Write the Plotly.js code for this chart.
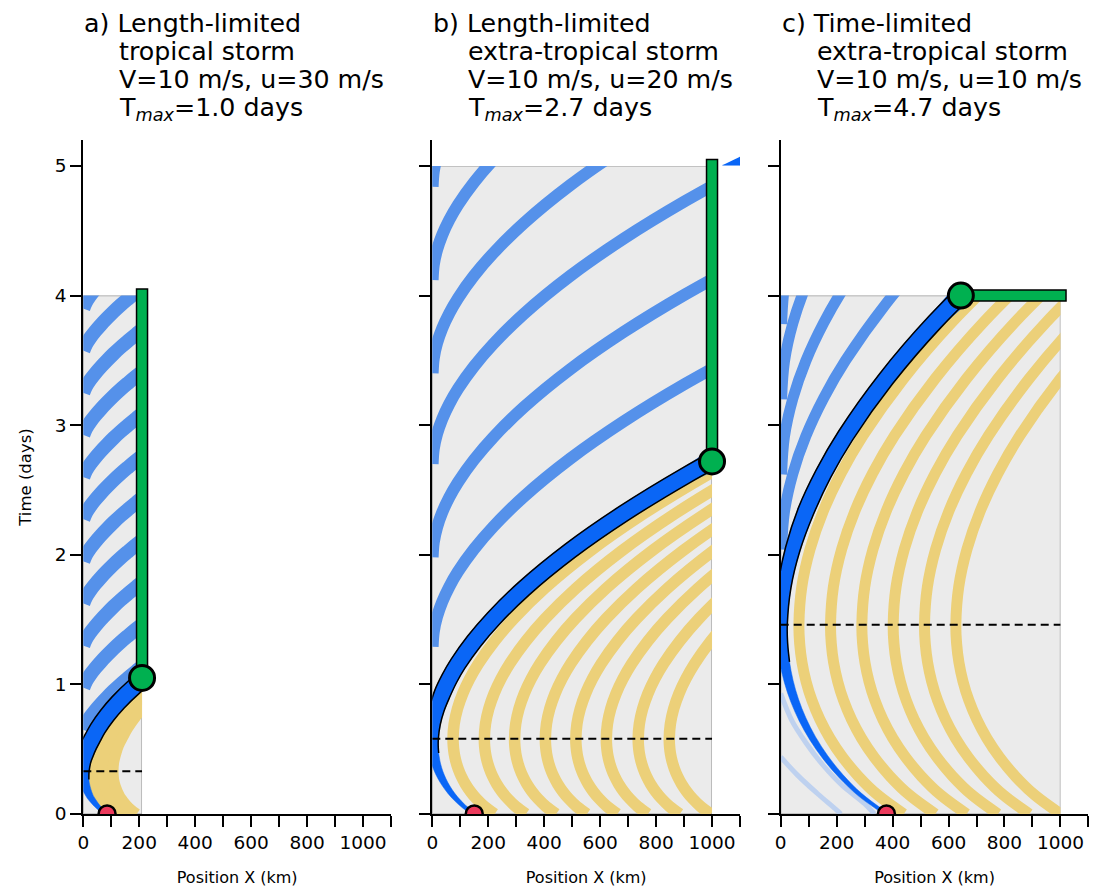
<!DOCTYPE html>
<html><head><meta charset="utf-8">
<script src="https://cdn.plot.ly/plotly-3.0.1.min.js"></script>
<style>body{margin:0;background:#fff}#chart{width:1102px;height:889px}</style>
</head><body><div id="chart"></div>
<script>
// ---------------- data ----------------
// panel a: main trajectory (time in days, position in km)
const aT = [0,0.033,0.066,0.1,0.13,0.165,0.2,0.23,0.26,0.3,0.33,0.4,0.46,0.53,0.59,0.66,0.76,0.86,0.99,1.155];
const aX = [85,64.1,48.3,35.6,25.4,17.2,10.8,6.1,2.8,0.9,0.3,2.6,9.3,19.9,34.2,52,84.7,124.1,186.3,278.3];
// panel a: shape of the light-blue stripes (days since start, km) and their start times
const aStripeS = [0,0.05,0.1,0.15,0.2,0.25,0.3,0.35,0.4,0.45,0.5];
const aStripeX = [0,10,25,43,63,85,108,133,160,188,218];
const aStripeStart = [0.65,0.975,1.3,1.625,1.95,2.275,2.6,2.925,3.25,3.575,3.9];
const aYellowOff = [34,70,106];
// panel b
const bT = [0,0.058,0.116,0.174,0.232,0.29,0.348,0.406,0.464,0.522,0.58,0.696,0.812,0.928,1.044,1.16,1.334,1.508,1.74,2.03,2.32,2.61,2.9];
const bX = [150,113.2,85.4,63.2,45.2,30.8,19.6,11.3,5.5,2.2,1.1,5.2,16.9,35.6,60.8,92,149.5,218.7,328,492,685,905,1150];
const bBlueShift = [0.71,1.40,2.12,2.82,3.54,4.26];
const bYellowOff = [73,185,293,403,512,621,735,846];
// panel c
const cT = [0,0.146,0.292,0.438,0.584,0.73,0.876,1.022,1.168,1.314,1.46,1.752,2.044,2.336,2.628,2.92,3.358,3.796,4.38];
const cX = [378,285.3,215.5,159.5,114.2,78,49.8,28.8,14.3,5.9,3.1,13.4,43.1,90,153.4,232.1,376.9,551,826];
const cBlueShift = [0.58,1.16,1.74,2.32];
const cYellowOff = [62,175,287,399,511,623];
// faint lines in panel c
const cPale1X = [0,60,130,200,215];
const cPale1T = [0.44,0.3,0.16,0.03,0];
const cPale2X = [0,40,90,150,220,300,335];
const cPale2T = [0.93,0.72,0.55,0.38,0.22,0.08,0];
// storm boxes, critical times, markers
const boxL = [210,1000,1000];
const boxT = [4,5,4];
const tCrit = [0.33,0.58,1.46];
const redX = [85,150,378];
const greenX = [210,1000,644];
const greenT = [1.05,2.72,4.0];
// green bar end (vertical for a,b: time; horizontal for c: position)
const barEnd = [4.05,5.05,1020];
// small blue fragment at top right of panel b
const fragX = [1037,1100,1100];
const fragT = [5.005,5.005,5.07];
const titles = [
  ["a) Length-limited","tropical storm","V=10 m/s, u=30 m/s","T<sub><i>max</i></sub>=1.0 days"],
  ["b) Length-limited","extra-tropical storm","V=10 m/s, u=20 m/s","T<sub><i>max</i></sub>=2.7 days"],
  ["c) Time-limited","extra-tropical storm","V=10 m/s, u=10 m/s","T<sub><i>max</i></sub>=4.7 days"]
];
const xTicks = [0,100,200,300,400,500,600,700,800,900,1000,1100];
const xTickText = ["0","","200","","400","","600","","800","","1000",""];
const yTicks = [0,1,2,3,4,5];

// ---------------- geometry ----------------
const W = 1102, H = 889;
const X0 = [83.3, 432.3, 780.7];
const PW = 307.7, XMAX = 1100, YMAX = 5.2;
const Y0 = 814, YTOP = 140;
const KX = PW / XMAX, KY = (Y0 - YTOP) / YMAX;

const C_BLUE = '#5591ea', C_MAIN = '#0a66f6', C_YEL = '#ecd079', C_GRAY = '#ebebeb';
const C_GREEN = '#00b050', C_RED = '#ec3a5c';

const panels = [
  {T:aT, X:aX, shifts:null, yoff:aYellowOff, sw:14, yw:11},
  {T:bT, X:bX, shifts:bBlueShift, yoff:bYellowOff, sw:12, yw:11.5},
  {T:cT, X:cX, shifts:cBlueShift, yoff:cYellowOff, sw:11, yw:11}
];

const traces = [];
const shapes = [];
const annotations = [];
const layout = {
  width: W, height: H, margin: {l:0,r:0,t:0,b:0},
  paper_bgcolor: '#fff', plot_bgcolor: 'rgba(0,0,0,0)',
  showlegend: false, font: {family: 'DejaVu Sans', color: '#000'},
  shapes: shapes, annotations: annotations
};

function bandPolygon(T, X, tc) {
  const n = T.length, L = [], R = [];
  for (let i = 0; i < n; i++) {
    const i0 = Math.max(0, i - 1), i1 = Math.min(n - 1, i + 1);
    const dx = (X[i1] - X[i0]) * KX, dy = -(T[i1] - T[i0]) * KY;
    const len = Math.hypot(dx, dy) || 1;
    const nx = -dy / len, ny = dx / len;
    const hw = 1.6 + 6.6 * Math.min(1, T[i] / (1.6 * tc));
    L.push([X[i] + nx * hw / KX, T[i] - ny * hw / KY]);
    R.push([X[i] - nx * hw / KX, T[i] + ny * hw / KY]);
  }
  return {L, R};
}

function line(x, y, xa, ya, color, width) {
  return {type: 'scatter', mode: 'lines', x: x, y: y, xaxis: xa, yaxis: ya,
    line: {color: color, width: width, shape: 'spline'}, hoverinfo: 'skip'};
}

for (let p = 0; p < 3; p++) {
  const P = panels[p];
  const sfx = p === 0 ? '' : String(p + 1);
  const bx = 'x' + sfx, by = 'y' + sfx;
  const vx = 'x' + (p + 4), vy = 'y' + (p + 4);
  layout['xaxis' + sfx] = {
    domain: [X0[p] / W, (X0[p] + boxL[p] * KX) / W], range: [0, boxL[p]],
    visible: false, fixedrange: true, anchor: by
  };
  layout['yaxis' + sfx] = {
    domain: [(H - Y0) / H, (H - Y0 + boxT[p] * KY) / H], range: [0, boxT[p]],
    visible: false, fixedrange: true, anchor: bx
  };
  layout['xaxis' + (p + 4)] = {
    domain: [X0[p] / W, (X0[p] + PW) / W], range: [0, XMAX], anchor: vy,
    showline: true, linecolor: '#000', linewidth: 2, ticks: 'outside', ticklen: 11,
    tickwidth: 2, tickcolor: '#000', tickvals: xTicks, ticktext: xTickText,
    tickfont: {size: 18.5, family: 'DejaVu Sans'}, showgrid: false, zeroline: false,
    fixedrange: true,
    title: {text: 'Position X (km)', font: {size: 16, family: 'DejaVu Sans'}, standoff: 20}
  };
  layout['yaxis' + (p + 4)] = {
    domain: [(H - Y0) / H, (H - YTOP) / H], range: [0, YMAX], anchor: vx,
    showline: true, linecolor: '#000', linewidth: 2, ticks: 'outside', ticklen: 11,
    tickwidth: 2, tickcolor: '#000', tickvals: yTicks, showticklabels: p === 0,
    tickfont: {size: 18.5, family: 'DejaVu Sans'}, showgrid: false, zeroline: false,
    fixedrange: true,
    title: p === 0 ? {text: 'Time (days)', font: {size: 16.5, family: 'DejaVu Sans'}, standoff: 19} : {text: ''}
  };
  shapes.push({type: 'rect', xref: bx, yref: by, x0: 0, x1: boxL[p], y0: 0, y1: boxT[p],
    fillcolor: C_GRAY, line: {color: '#9a9a9a', width: 1.2}, layer: 'below'});

  if (p === 2) {
    traces.push(line(cPale1X, cPale1T, bx, by, 'rgba(175,200,240,0.75)', 5));
    traces.push(line(cPale2X, cPale2T, bx, by, 'rgba(175,200,240,0.75)', 5));
  }
  P.yoff.forEach(off => traces.push(line(P.X.map(v => v + off), P.T, bx, by, C_YEL, P.yw)));
  if (p === 0) {
    aStripeStart.forEach(t0 => traces.push(line(aStripeX, aStripeS.map(s => s + t0), bx, by, C_BLUE, P.sw)));
  } else {
    const iv = P.T.findIndex(t => t >= tCrit[p] - 1e-9);
    P.shifts.forEach(s => traces.push(line(P.X.slice(iv), P.T.slice(iv).map(t => t + s), bx, by, C_BLUE, P.sw)));
  }
  const band = bandPolygon(P.T, P.X, tCrit[p]);
  const poly = band.L.concat(band.R.slice().reverse());
  traces.push({type: 'scatter', mode: 'lines', x: poly.map(q => q[0]), y: poly.map(q => q[1]),
    xaxis: bx, yaxis: by, fill: 'toself', fillcolor: C_MAIN,
    line: {color: C_MAIN, width: 0.5, shape: 'spline'}, hoverinfo: 'skip'});
  const k0 = P.T.findIndex(t => t >= 0.75 * tCrit[p]);
  [band.L, band.R].forEach(edge => {
    const e = edge.slice(k0);
    traces.push(line(e.map(q => q[0]), e.map(q => q[1]), bx, by, '#000', 1.5));
  });

  traces.push({type: 'scatter', mode: 'lines', x: [0, boxL[p]], y: [tCrit[p], tCrit[p]],
    xaxis: vx, yaxis: vy, line: {color: '#000', width: 2, dash: '8px,5px'}, hoverinfo: 'skip'});
  let bxs, bts;
  const hwPx = 5.5;
  if (p < 2) {
    const dx = hwPx / KX;
    bxs = [greenX[p] - dx, greenX[p] + dx, greenX[p] + dx, greenX[p] - dx, greenX[p] - dx];
    bts = [greenT[p], greenT[p], barEnd[p], barEnd[p], greenT[p]];
  } else {
    const dt = hwPx / KY;
    bxs = [greenX[p], barEnd[p], barEnd[p], greenX[p], greenX[p]];
    bts = [greenT[p] - dt, greenT[p] - dt, greenT[p] + dt, greenT[p] + dt, greenT[p] - dt];
  }
  traces.push({type: 'scatter', mode: 'lines', x: bxs, y: bts, xaxis: vx, yaxis: vy,
    fill: 'toself', fillcolor: C_GREEN, line: {color: '#000', width: 1.5}, hoverinfo: 'skip'});
  traces.push({type: 'scatter', mode: 'markers', x: [greenX[p]], y: [greenT[p]], xaxis: vx, yaxis: vy,
    marker: {size: 25, color: C_GREEN, line: {color: '#000', width: 3}}, hoverinfo: 'skip'});
  traces.push({type: 'scatter', mode: 'markers', x: [redX[p]], y: [0], xaxis: vx, yaxis: vy,
    marker: {size: 17, color: C_RED, line: {color: '#000', width: 2.5}}, hoverinfo: 'skip'});
  if (p === 1) {
    traces.push({type: 'scatter', mode: 'lines', x: fragX, y: fragT, xaxis: vx, yaxis: vy,
      fill: 'toself', fillcolor: C_MAIN, line: {color: C_MAIN, width: 0.5}, hoverinfo: 'skip'});
  }
  const lineY = [23, 51.5, 80, 108.5];
  titles[p].forEach((txt, j) => {
    annotations.push({xref: 'paper', yref: 'paper', x: (X0[p] + (j === 0 ? -1 : 34)) / W,
      y: 1 - lineY[j] / H, xanchor: 'left', yanchor: 'middle', showarrow: false, text: txt,
      font: {size: 25.3, family: 'DejaVu Sans', color: '#000'}});
  });
}

Plotly.newPlot('chart', traces, layout, {staticPlot: true});
</script></body></html>
